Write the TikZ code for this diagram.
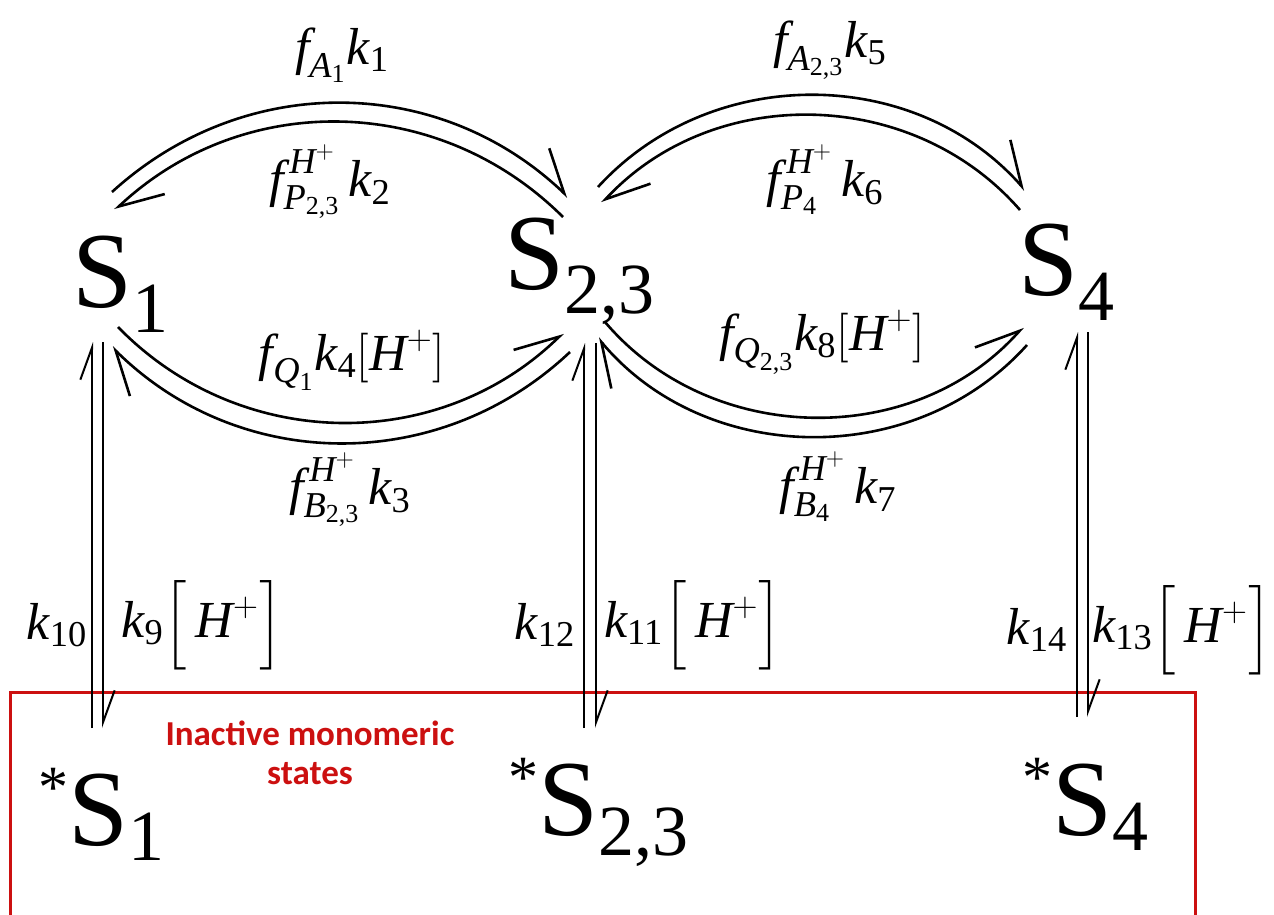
\documentclass[tikz,border=0pt]{standalone}
\usepackage{amsmath}
\usepackage{fontspec}
\setmainfont{Liberation Serif}
\newfontfamily\tnr{Liberation Serif}
\newfontfamily\labelsans{Carlito}
\usetikzlibrary{arrows.meta}
\definecolor{boxred}{RGB}{204,16,16}
\newcommand\mi[1]{\text{\tnr\itshape #1}}
\newcommand\mr[1]{\text{\tnr\upshape #1}}
\newcommand\stsub[2]{\raisebox{#1}{\fontsize{36}{36}\selectfont #2}}
\newcommand\inactstar{\raisebox{19pt}{\fontsize{30}{30}\selectfont *}}
\begin{document}
\begin{tikzpicture}[x=0.5pt,y=0.5pt,
  rx/.style={line width=1.3pt, -{Straight Barb[harpoon,length=21pt,angle'=56]}},
  vx/.style={line width=1pt, -{Straight Barb[harpoon,length=16pt,angle'=40]}},
  state/.style={inner sep=0pt, font=\tnr\fontsize{54}{60}\selectfont},
  lab/.style={inner sep=0pt, font=\fontsize{26}{30}\selectfont},
  redlab/.style={inner sep=0pt, text=boxred, align=center, font=\labelsans\bfseries\fontsize{17.5}{19.5}\selectfont},
  redbox/.style={draw=boxred, line width=1.5pt}
]
\useasboundingbox (0,0) rectangle (1274,-915);

% red frame of the inactive states
\coordinate (rb1) at (10,-920);
\coordinate (rb2) at (10,-692);
\coordinate (rb3) at (1195,-692);
\coordinate (rb4) at (1195,-920);
\draw[redbox] (rb1) -- (rb2) -- (rb3) -- (rb4);
\node[redlab] (inact) at (310,-753) {Inactive monomeric\\states};

% states
\node[state, anchor=base west] (S1)  at (72,-307)  {S\stsub{-12.5pt}{1}};
\node[state, anchor=base west] (S23) at (504,-289) {S\stsub{-12pt}{2,3}};
\node[state, anchor=base west] (S4)  at (1018,-295) {S\stsub{-12.5pt}{4}};
\node[state, anchor=base west] (iS1)  at (38,-845)  {\inactstar S\stsub{-7.5pt}{1}};
\node[state, anchor=base west] (iS23) at (508,-835) {\inactstar S\stsub{-10pt}{2,3}};
\node[state, anchor=base west] (iS4)  at (1022,-835) {\inactstar S\stsub{-7.5pt}{4}};

% arc end points
\coordinate (a1) at (112,-192); \coordinate (b1) at (568,-197);
\coordinate (c1) at (563,-217); \coordinate (d1) at (115,-210);
\coordinate (a2) at (598,-187); \coordinate (b2) at (1025,-190);
\coordinate (c2) at (1020,-210); \coordinate (d2) at (602,-203);
\coordinate (e1) at (118,-327); \coordinate (f1) at (563,-333);
\coordinate (g1) at (570,-352); \coordinate (h1) at (112,-347);
\coordinate (e2) at (605,-322); \coordinate (f2) at (1023,-327);
\coordinate (g2) at (1027,-345); \coordinate (h2) at (598,-338);

\draw[rx] (a1) to[bend left=43] (b1);
\draw[rx] (c1) to[bend right=44] (d1);
\draw[rx] (a2) to[bend left=48] (b2);
\draw[rx] (c2) to[bend right=48] (d2);
\draw[rx] (e1) to[bend right=45] (f1);
\draw[rx] (g1) to[bend left=44] (h1);
\draw[rx] (e2) to[bend right=49] (f2);
\draw[rx] (g2) to[bend left=49] (h2);

% vertical exchanges
\coordinate (u1a) at (92,-728);   \coordinate (u1b) at (92,-342);
\coordinate (w1a) at (103,-342);  \coordinate (w1b) at (103,-728);
\coordinate (u2a) at (584,-728);  \coordinate (u2b) at (584,-343);
\coordinate (w2a) at (596,-343);  \coordinate (w2b) at (596,-728);
\coordinate (u3a) at (1077,-717); \coordinate (u3b) at (1077,-332);
\coordinate (w3a) at (1088,-332); \coordinate (w3b) at (1088,-717);
\draw[vx] (u1a) -- (u1b);
\draw[vx] (w1a) -- (w1b);
\draw[vx] (u2a) -- (u2b);
\draw[vx] (w2a) -- (w2b);
\draw[vx] (u3a) -- (u3b);
\draw[vx] (w3a) -- (w3b);

% rate labels
\node[lab] (l1) at (342,-55)  {$\mi{f}_{\mi{A}_{\mr{1}}}\mi{k}_{\mr{1}}$};
\node[lab] (l2) at (330,-182) {$\mi{f}^{\,\mi{H}^{+}}_{\mi{P}_{\mr{2,3}}}\,\mi{k}_{\mr{2}}$};
\node[lab] (l5) at (830,-50)  {$\mi{f}_{\mi{A}_{\mr{2,3}}}\mi{k}_{\mr{5}}$};
\node[lab] (l6) at (825,-180) {$\mi{f}^{\,\mi{H}^{+}}_{\mi{P}_{\mr{4}}}\,\mi{k}_{\mr{6}}$};
\node[lab] (l4) at (352,-360) {$\mi{f}_{\mi{Q}_{\mr{1}}}\mi{k}_{\mr{4}}[\mi{H}^{+}]$};
\node[lab] (l3) at (350,-490) {$\mi{f}^{\,\mi{H}^{+}}_{\mi{B}_{\mr{2,3}}}\,\mi{k}_{\mr{3}}$};
\node[lab] (l8) at (822,-342) {$\mi{f}_{\mi{Q}_{\mr{2,3}}}\mi{k}_{\mr{8}}[\mi{H}^{+}]$};
\node[lab] (l7) at (838,-487) {$\mi{f}^{\,\mi{H}^{+}}_{\mi{B}_{\mr{4}}}\,\mi{k}_{\mr{7}}$};
\node[lab] (l10) at (57,-625)   {$\mi{k}_{\mr{10}}$};
\node[lab] (l9)  at (202,-625)  {$\mi{k}_{\mr{9}}\Bigl[\,\mi{H}^{+}\Bigr]$};
\node[lab] (l12) at (545,-625)  {$\mi{k}_{\mr{12}}$};
\node[lab] (l11) at (693,-625)  {$\mi{k}_{\mr{11}}\Bigl[\,\mi{H}^{+}\Bigr]$};
\node[lab] (l14) at (1037,-630) {$\mi{k}_{\mr{14}}$};
\node[lab] (l13) at (1182,-630) {$\mi{k}_{\mr{13}}\Bigl[\,\mi{H}^{+}\Bigr]$};
\end{tikzpicture}
\end{document}
